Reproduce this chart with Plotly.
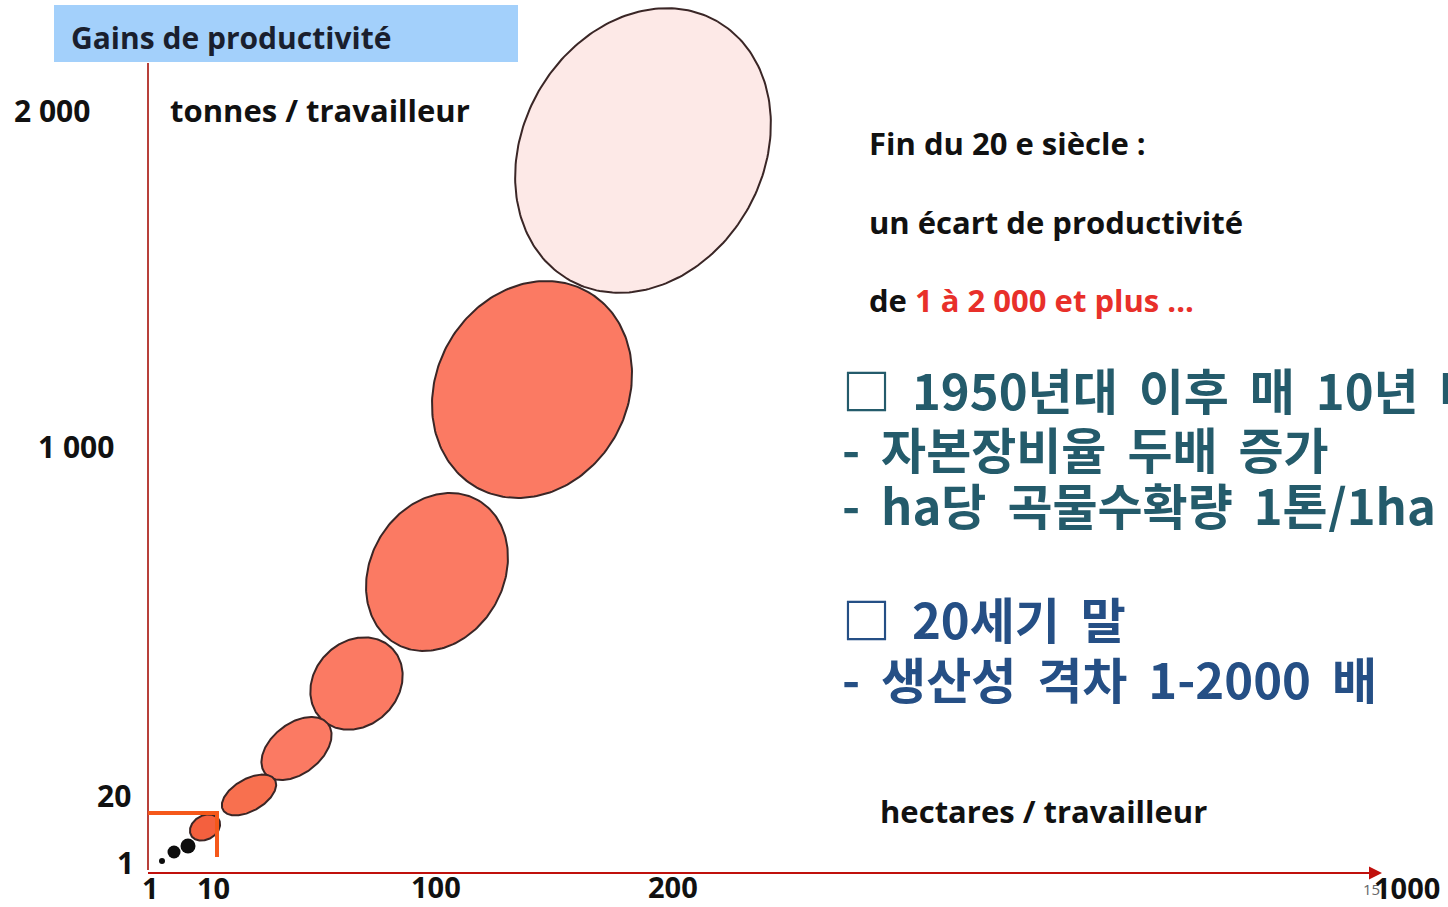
import numpy as np
import plotly.graph_objects as go

# Drawing space: x 0..1448 (left to right), y 0..907 (bottom to top)
W, H = 1448, 907

# Productivity stages: ellipse centre, semi-axes and tilt (degrees, counter-clockwise)
stage_cx = [643, 532, 437, 356.5, 296.5, 249, 205]
stage_cy = [756.5, 517.5, 335, 223.5, 158.5, 112, 79.5]
stage_a = [149, 112.5, 82.7, 50, 40, 30, 16]
stage_b = [120, 95.5, 66.6, 42, 25, 16, 12]
stage_tilt = [60, 60, 60, 45, 38, 30, 30]
stage_fill = ["#fde9e7", "#fb7a63", "#fb7a63", "#fb7a63", "#fb7a63", "#f8704f", "#f4603e"]

# Manual agriculture: small black dots
dot_x = [188, 174, 162]
dot_y = [61, 55, 46]
dot_size = [15, 13, 6]

# Axis tick labels
ytick_text = ["2 000", "1 000", "20", "1"]
ytick_x = [52, 76, 114, 125]
ytick_y = [797, 461, 112, 45]
xtick_text = ["1", "10", "100", "200", "1000"]
xtick_x = [150, 213, 436, 673, 1407]
xtick_y = [20, 20, 21, 21, 20]

fig = go.Figure()

t = np.linspace(0, 2 * np.pi, 240)
for cx, cy, a, b, ang, col in zip(stage_cx, stage_cy, stage_a, stage_b, stage_tilt, stage_fill):
    th = np.radians(ang)
    ex = cx + a * np.cos(t) * np.cos(th) - b * np.sin(t) * np.sin(th)
    ey = cy + a * np.cos(t) * np.sin(th) + b * np.sin(t) * np.cos(th)
    fig.add_trace(go.Scatter(
        x=ex, y=ey, mode="lines", fill="toself", fillcolor=col,
        line=dict(color="#3a2626", width=2), hoverinfo="skip", showlegend=False,
    ))

fig.add_trace(go.Scatter(
    x=dot_x, y=dot_y, mode="markers",
    marker=dict(size=dot_size, color="#0d0d0d", opacity=1, line=dict(width=0)),
    hoverinfo="skip", showlegend=False,
))

shapes = [
    # title band
    dict(type="rect", xref="x", yref="y", x0=54, x1=518, y0=845, y1=902,
         fillcolor="#a3d0fb", line=dict(width=0), layer="below"),
    # vertical axis
    dict(type="line", xref="x", yref="y", x0=148, x1=148, y0=37, y1=844,
         line=dict(color="#b8403a", width=2), layer="below"),
    # horizontal axis
    dict(type="line", xref="x", yref="y", x0=148, x1=1368, y0=34, y1=34,
         line=dict(color="#c0100c", width=2), layer="below"),
    # orange bracket round the first stage
    dict(type="line", xref="x", yref="y", x0=148, x1=219, y0=94, y1=94,
         line=dict(color="#f5581a", width=4)),
    dict(type="line", xref="x", yref="y", x0=217, x1=217, y0=94, y1=50,
         line=dict(color="#f5581a", width=4)),
]

ann = []
# arrowhead on the horizontal axis
ann.append(dict(x=1382, y=34, ax=1360, ay=34, xref="x", yref="y", axref="x", ayref="y",
                text="", showarrow=True, arrowhead=2, arrowsize=1.3, arrowwidth=2,
                arrowcolor="#c0100c"))

lat = "Open Sans"
ink = "#111111"
for txt, x, y in zip(ytick_text, ytick_x, ytick_y):
    ann.append(dict(x=x, y=y, xref="x", yref="y", text=f"<b>{txt}</b>", showarrow=False,
                    font=dict(family=lat, size=30, color=ink)))
# slide number sitting under the last tick
ann.append(dict(x=1371, y=18, xref="x", yref="y", text="15",
                showarrow=False, font=dict(family=lat, size=15, color="#666666")))
for txt, x, y in zip(xtick_text, xtick_x, xtick_y):
    ann.append(dict(x=x, y=y, xref="x", yref="y", text=f"<b>{txt}</b>",
                    showarrow=False, font=dict(family=lat, size=29, color=ink)))

ann.append(dict(x=69, y=870, xref="x", yref="y", text="<b>Gains de productivité</b>",
                showarrow=False, xanchor="left",
                font=dict(family=lat, size=30, color="#1a1f2e")))
ann.append(dict(x=168, y=797, xref="x", yref="y", text="<b>tonnes / travailleur</b>",
                showarrow=False, xanchor="left",
                font=dict(family=lat, size=31, color=ink)))
ann.append(dict(x=878, y=96, xref="x", yref="y", text="<b>hectares / travailleur</b>",
                showarrow=False, xanchor="left",
                font=dict(family=lat, size=31, color=ink)))

ann.append(dict(x=867, y=764, xref="x", yref="y", text="<b>Fin du 20 e siècle :</b>",
                showarrow=False, xanchor="left",
                font=dict(family=lat, size=31, color=ink)))
ann.append(dict(x=867, y=685, xref="x", yref="y", text="<b>un écart de productivité</b>",
                showarrow=False, xanchor="left",
                font=dict(family=lat, size=31, color=ink)))
ann.append(dict(x=867, y=607, xref="x", yref="y",
                text="<b>de <span style='color:#e8302a'>1 à 2 000 et plus ...</span></b>",
                showarrow=False, xanchor="left",
                font=dict(family=lat, size=31, color=ink)))

kr = "Noto Sans CJK KR"
teal = "#245b6b"
navy = "#254f85"
gap = " \u2009"  # slightly wider word gap
kr_lines = [
    ("□ 1950년대 이후 매 10년 마다", 519, teal),
    ("- 자본장비율 두배 증가", 460, teal),
    ("- ha당 곡물수확량 1톤/1ha", 404, teal),
    ("□ 20세기 말", 290, navy),
    ("- 생산성 격차 1-2000 배", 230, navy),
]
for txt, y, col in kr_lines:
    ann.append(dict(x=840, y=y, xref="x", yref="y", text="<b>" + txt.replace(" ", gap) + "</b>",
                    showarrow=False, xanchor="left", height=57, valign="middle",
                    font=dict(family=kr, size=49, color=col)))

fig.update_layout(
    width=W, height=H, margin=dict(l=0, r=0, t=0, b=0),
    paper_bgcolor="white", plot_bgcolor="white",
    xaxis=dict(range=[0, W], visible=False, fixedrange=True),
    yaxis=dict(range=[0, H], visible=False, fixedrange=True),
    shapes=shapes, annotations=ann, showlegend=False,
)

fig.write_html("out.html")
